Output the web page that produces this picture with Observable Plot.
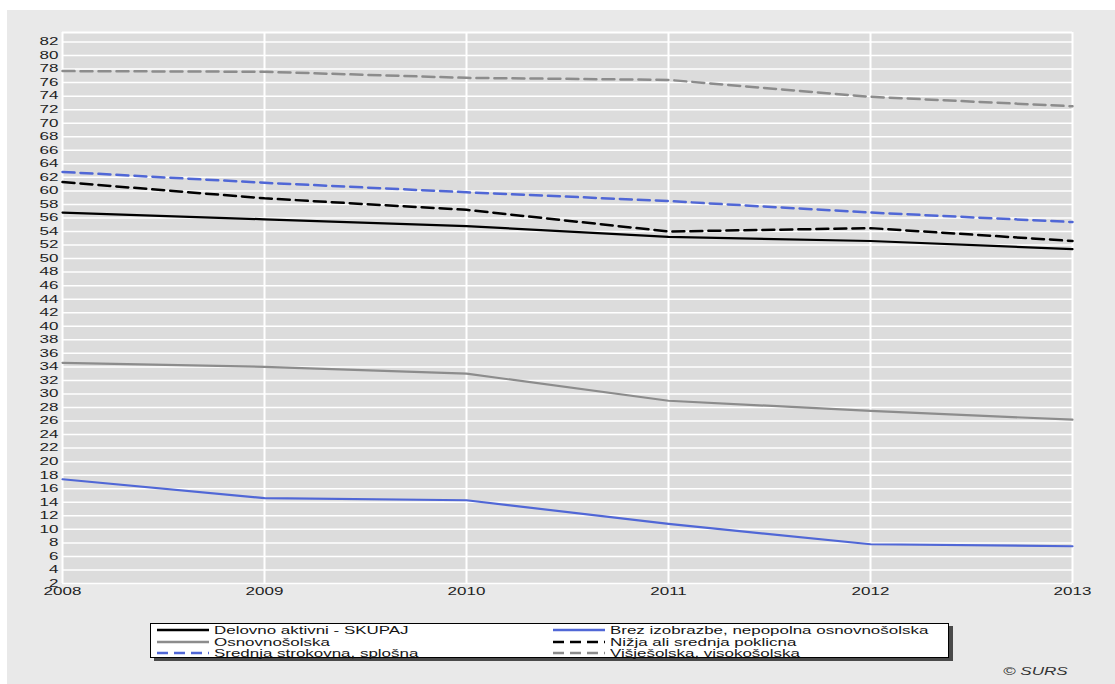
<!DOCTYPE html>
<html>
<head>
<meta charset="utf-8">
<script src="https://cdn.jsdelivr.net/npm/d3@7"></script>
<script src="https://cdn.jsdelivr.net/npm/@observablehq/plot@0.6"></script>
<style>
  html, body { margin: 0; padding: 0; background: #ffffff; }
  #frame { position: absolute; left: 7px; top: 10px; width: 1108px; height: 674px; background: #e9e9e9; font-family: "Liberation Sans", Arial, sans-serif; }
  #chart { position: absolute; left: 0; top: 0; }
  #legend { position: absolute; left: 143px; top: 613px; width: 797px; height: 33px; background: #fff; border: 1px solid #000; box-shadow: 4px 3px 0 #4a4a4a; }
  .item { position: absolute; height: 12px; font-size: 11px; line-height: 12px; color: #151515; white-space: nowrap; display: flex; align-items: center; }
  .item svg { margin-right: 5px; flex: none; }
  .item span { display: inline-block; transform: scaleX(1.54); transform-origin: left center; }
  #copy { position: absolute; left: 996px; top: 655px; font-size: 11px; line-height: 12px; font-style: italic; color: #333; transform: scaleX(1.55); transform-origin: left center; }
</style>
</head>
<body>
<div id="frame">
  <div id="chart"></div>
  <div id="legend"></div>
  <div id="copy">© SURS</div>
</div>
<script>
const years = [2008, 2009, 2010, 2011, 2012, 2013];
const seriesNames = [
  "Delovno aktivni - SKUPAJ",
  "Brez izobrazbe, nepopolna osnovnošolska",
  "Osnovnošolska",
  "Nižja ali srednja poklicna",
  "Srednja strokovna, splošna",
  "Višješolska, visokošolska"
];
const skupaj  = [56.8, 55.8, 54.8, 53.2, 52.6, 51.4];
const brez    = [17.4, 14.6, 14.3, 10.8, 7.8, 7.5];
const osnovno = [34.6, 34.0, 33.0, 29.0, 27.5, 26.2];
const nizja   = [61.3, 58.9, 57.2, 54.0, 54.5, 52.6];
const srednja = [62.8, 61.2, 59.8, 58.5, 56.8, 55.4];
const visje   = [77.7, 77.6, 76.7, 76.4, 73.9, 72.5];
const yTicks = d3.range(2, 83, 2);

const seriesValues = [skupaj, brez, osnovno, nizja, srednja, visje];
const seriesColors = ["#000000", "#5067d6", "#8c8c8c", "#000000", "#5067d6", "#8c8c8c"];
const dashed = [false, false, false, true, true, true];

const rows = [];
seriesNames.forEach((name, i) => {
  years.forEach((yr, j) => rows.push({series: name, year: yr, value: seriesValues[i][j], dashed: dashed[i]}));
});

const chart = Plot.plot({
  width: 1108,
  height: 600,
  marginLeft: 55,
  marginRight: 43,
  marginTop: 22,
  marginBottom: 27,
  style: { background: "transparent", fontFamily: "'Liberation Sans', Arial, sans-serif", fontSize: "10.5px", color: "#1e1e1e" },
  x: { domain: [2008, 2013], ticks: years, tickFormat: d => String(d), tickSize: 0, tickPadding: 4, label: null },
  y: { domain: [2, 83.4], ticks: yTicks, tickSize: 0, tickPadding: 4, label: null },
  color: { domain: seriesNames, range: seriesColors },
  marks: [
    Plot.frame({ fill: "#dcdcdc", stroke: null }),
    Plot.ruleY(yTicks, { stroke: "#ffffff", strokeWidth: 1.5 }),
    Plot.ruleY([83.4], { stroke: "#ffffff", strokeWidth: 2 }),
    Plot.ruleX(years, { stroke: "#ffffff", strokeWidth: 2 }),
    Plot.line(rows.filter(d => !d.dashed), { x: "year", y: "value", z: "series", stroke: "series", strokeWidth: 2.2 }),
    Plot.line(rows.filter(d => d.dashed), { x: "year", y: "value", z: "series", stroke: "series", strokeWidth: 2.5, strokeDasharray: "12,6" }),
    Plot.axisX({ ticks: years, tickFormat: d => String(d), tickSize: 0, tickPadding: 4 }),
    Plot.axisY({ ticks: yTicks, tickSize: 0, tickPadding: 4 })
  ]
});
// stretch tick labels horizontally around their anchor, like the original
d3.select(chart).selectAll("text").each(function() {
  const t = d3.select(this);
  const xa = t.attr("x");
  const x = xa && /^-?[\d.]+$/.test(xa) ? +xa : 0;
  const tr = t.attr("transform") || "";
  t.attr("transform", `${tr} translate(${x},0) scale(1.62,1) translate(${-x},0)`);
});
document.getElementById("chart").appendChild(chart);

// Legend
const legend = document.getElementById("legend");
const colX = [6, 402];
const rowY = [0, 11.5, 23];
seriesNames.forEach((name, i) => {
  const div = document.createElement("div");
  div.className = "item";
  div.style.left = colX[i % 2] + "px";
  div.style.top = rowY[Math.floor(i / 2)] + "px";
  const dash = dashed[i] ? 'stroke-dasharray="11,6"' : "";
  div.innerHTML = `<svg width="52" height="6"><line x1="0" y1="3" x2="52" y2="3" stroke="${seriesColors[i]}" stroke-width="2.5" ${dash}/></svg><span>${name}</span>`;
  legend.appendChild(div);
});
</script>
</body>
</html>
